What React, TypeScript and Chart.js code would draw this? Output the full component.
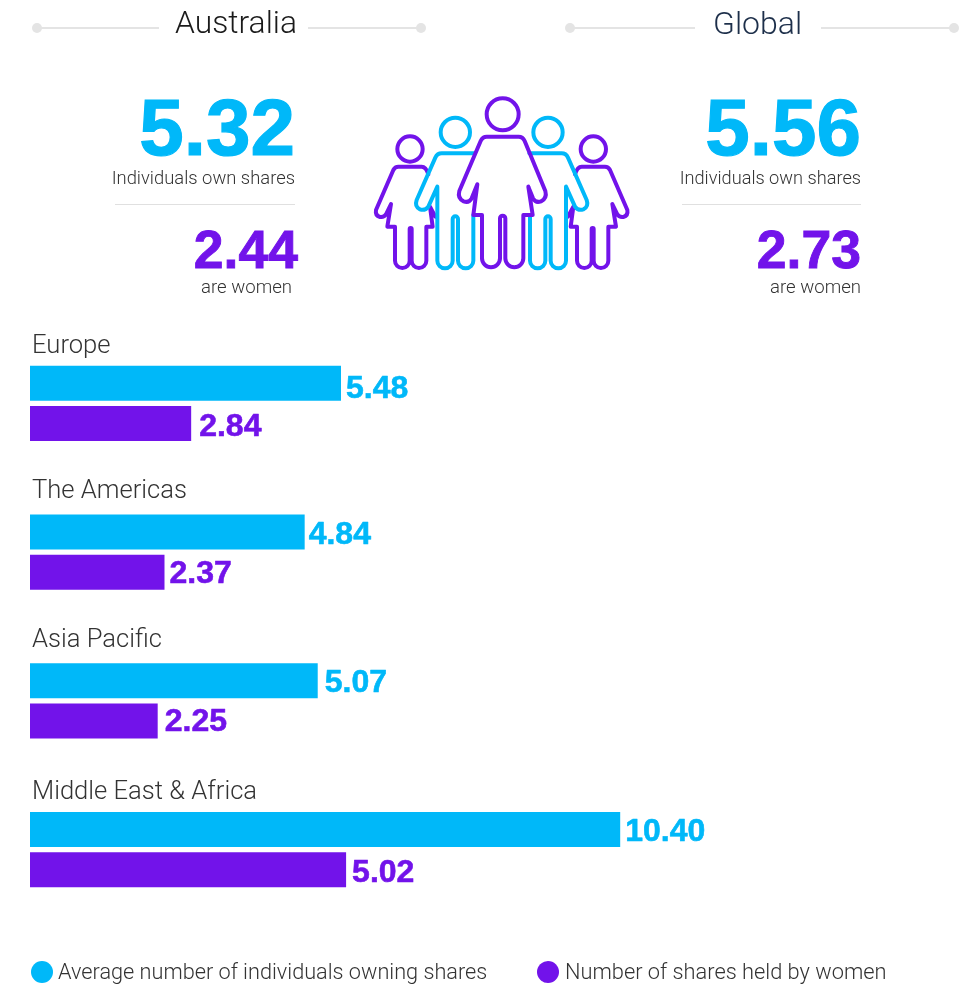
import React, { useEffect, useRef } from "react";
import { Chart, registerables } from "chart.js";

Chart.register(...registerables);

const regions = ["Europe", "The Americas", "Asia Pacific", "Middle East & Africa"];
const ownersValues = [5.48, 4.84, 5.07, 10.4];
const ownersLabels = ["5.48", "4.84", "5.07", "10.40"];
// Bar lengths as drawn in the picture (the last one is longer than its printed label).
const womenValues = [2.84, 2.37, 2.25, 5.57];
const womenLabels = ["2.84", "2.37", "2.25", "5.02"];
const seriesNames = ["Average number of individuals owning shares", "Number of shares held by women"];

const BLUE = "#00b8f9";
const PURPLE = "#7213ea";
const FONT = "Roboto, sans-serif";
const NUM_FONT = "'Liberation Sans', Arial, sans-serif";
const TEXT = "#333333";

// small hand adjustments of the printed labels, in pixels
const valueGap = [
  [5, 4, 7, 5],
  [8, 5, 7, 6],
];
const valueDrop = [
  [6, 3, 2, 3],
  [4, 2, 1, 4],
];
const regionLift = [57, 61, 60, 57];

const labelPlugin = {
  id: "barText",
  afterDatasetsDraw(chart: any) {
    const ctx = chart.ctx;
    ctx.save();
    ctx.textBaseline = "middle";
    ctx.textAlign = "left";
    ctx.lineWidth = 0.6;
    ctx.lineJoin = "round";
    chart.data.datasets.forEach((ds: any, i: number) => {
      const meta = chart.getDatasetMeta(i);
      ctx.fillStyle = ds.backgroundColor;
      ctx.strokeStyle = ds.backgroundColor;
      ctx.font = `700 32px ${NUM_FONT}`;
      meta.data.forEach((el: any, j: number) => {
        const x = el.x + valueGap[i][j];
        const y = el.y + valueDrop[i][j];
        ctx.fillText(ds.valueLabels[j], x, y);
        ctx.strokeText(ds.valueLabels[j], x, y);
      });
    });
    const yScale = chart.scales.y;
    ctx.fillStyle = TEXT;
    ctx.font = `300 25.6px ${FONT}`;
    chart.data.labels.forEach((name: string, i: number) => {
      ctx.fillText(name, 32, yScale.getPixelForValue(i) - regionLift[i]);
    });
    ctx.restore();
  },
};

function Txt(props: { x: number; y: number; right?: boolean; size: number; weight: number; color: string; font?: string; stroke?: number; children: any }) {
  const { x, y, right, size, weight, color, children } = props;
  const style: any = {
    position: "absolute",
    top: y,
    transform: "translateY(-50%)",
    fontFamily: props.font || FONT,
    fontSize: size,
    fontWeight: weight,
    color,
    lineHeight: 1,
    whiteSpace: "nowrap",
  };
  if (props.stroke) style.WebkitTextStroke = `${props.stroke}px ${color}`;
  if (right) style.right = 968 - x;
  else style.left = x;
  return <div style={style}>{children}</div>;
}

function Rule(props: { x1: number; x2: number; y: number; color: string; h?: number }) {
  return (
    <div
      style={{
        position: "absolute",
        left: props.x1,
        top: props.y,
        width: props.x2 - props.x1,
        height: props.h || 1,
        background: props.color,
      }}
    />
  );
}

function Dot(props: { x: number; y: number; r: number; color: string }) {
  return (
    <div
      style={{
        position: "absolute",
        left: props.x - props.r,
        top: props.y - props.r,
        width: props.r * 2,
        height: props.r * 2,
        borderRadius: "50%",
        background: props.color,
      }}
    />
  );
}

function Heading(props: { title: string; color: string; textX: number; size: number; a: number; b: number; c: number; d: number }) {
  const { a, b, c, d } = props;
  const grey = "#e4e4e4";
  return (
    <>
      <Dot x={a} y={28} r={5} color={grey} />
      <Dot x={d} y={28} r={5} color={grey} />
      <Rule x1={a} x2={b} y={27} h={2} color={grey} />
      <Rule x1={c} x2={d} y={27} h={2} color={grey} />
      <Txt x={props.textX} y={23} size={props.size} weight={300} color={props.color}>
        {props.title}
      </Txt>
    </>
  );
}

const manPath =
  "M 342 205 H 245 Q 232 205 226 218 L 170 345 Q 163 365 180 373 Q 195 378 205 365 L 232 305 V 527 A 23 23 0 0 0 278 527 V 402 A 8 8 0 0 1 294 402 V 527 A 23 23 0 0 0 340 527 V 390";
const smallWomanPath =
  "M 205 268 Q 198 245 185 245 H 115 Q 105 245 100 255 L 48 375 Q 45 392 60 396 Q 72 398 78 388 L 93 357 L 82 425 H 105 V 527 A 22 22 0 0 0 149 527 V 432 A 3 3 0 0 1 155 432 V 527 A 22 22 0 0 0 199 527 V 425 H 218 L 210 365 L 226 395";
const centerWomanPath =
  "M 380 155 H 476 Q 488 155 494 168 L 556 318 Q 562 340 543 349 Q 527 355 519 340 L 505 305 L 518 390 H 490 V 520 A 27 27 0 0 1 436 520 V 400 A 8 8 0 0 0 420 400 V 520 A 27 27 0 0 1 366 520 V 390 H 340 L 352 298 L 335 340 Q 327 355 311 349 Q 292 340 298 318 L 362 168 Q 368 155 380 155 Z";

function People() {
  const common = { fill: "none", strokeWidth: 12, strokeLinejoin: "round" as const, strokeLinecap: "round" as const };
  return (
    <svg
      viewBox="0 0 840 585"
      width={280}
      height={195}
      style={{ position: "absolute", left: 360, top: 85 }}
    >
      <g stroke={PURPLE} {...common}>
        <circle cx={150} cy={192} r={38} />
        <path d={smallWomanPath} />
        <g transform="translate(850,0) scale(-1,1)">
          <circle cx={150} cy={192} r={38} />
          <path d={smallWomanPath} />
        </g>
      </g>
      <g stroke={BLUE} {...common}>
        <circle cx={286} cy={142} r={44} />
        <path d={manPath} />
        <g transform="translate(850,0) scale(-1,1)">
          <circle cx={286} cy={142} r={44} />
          <path d={manPath} />
        </g>
      </g>
      <g stroke={PURPLE} {...common}>
        <circle cx={428} cy={88} r={48} />
        <path d={centerWomanPath} />
      </g>
    </svg>
  );
}

export default function App() {
  const ref = useRef<HTMLCanvasElement>(null);
  useEffect(() => {
    document.body.style.margin = "0";
    const chart = new Chart(ref.current as HTMLCanvasElement, {
      type: "bar",
      data: {
        labels: regions,
        datasets: [
          {
            label: seriesNames[0],
            data: ownersValues,
            backgroundColor: BLUE,
            valueLabels: ownersLabels,
            categoryPercentage: 0.538,
            barPercentage: 0.875,
          } as any,
          {
            label: seriesNames[1],
            data: womenValues,
            backgroundColor: PURPLE,
            valueLabels: womenLabels,
            categoryPercentage: 0.538,
            barPercentage: 0.875,
          } as any,
        ],
      },
      options: {
        indexAxis: "y",
        animation: false,
        responsive: false,
        maintainAspectRatio: false,
        layout: { padding: { left: 30, right: 30, top: 329, bottom: 60 } },
        plugins: { legend: { display: false }, tooltip: { enabled: false } },
        scales: {
          x: { display: false, min: 0, max: 16 },
          y: { display: false },
        },
      },
      plugins: [labelPlugin],
    });
    return () => chart.destroy();
  }, []);

  return (
    <div style={{ position: "absolute", left: 0, top: 0, width: 968, height: 984, overflow: "hidden", background: "#fff" }}>
      <canvas ref={ref} width={968} height={984} style={{ position: "absolute", left: 0, top: 0 }} />

      <Heading title="Australia" color="#1a1a1a" textX={175} size={31.8} a={37} b={159} c={308} d={421} />
      <Heading title="Global" color="#1d2f4a" textX={713} size={32} a={570} b={695} c={821} d={954} />

      <Txt x={295} y={128} right size={80} weight={700} font={NUM_FONT} stroke={1.2} color={BLUE}>5.32</Txt>
      <Txt x={295} y={178} right size={18.4} weight={300} color={TEXT}>Individuals own shares</Txt>
      <Rule x1={115} x2={295} y={204} color="#e0e0e0" />
      <Txt x={298} y={250} right size={53.5} weight={700} font={NUM_FONT} stroke={0.9} color={PURPLE}>2.44</Txt>
      <Txt x={292} y={287} right size={18.6} weight={300} color={TEXT}>are women</Txt>

      <Txt x={861} y={128} right size={80} weight={700} font={NUM_FONT} stroke={1.2} color={BLUE}>5.56</Txt>
      <Txt x={861} y={178} right size={18.2} weight={300} color={TEXT}>Individuals own shares</Txt>
      <Rule x1={682} x2={861} y={204} color="#e0e0e0" />
      <Txt x={861} y={250} right size={53.5} weight={700} font={NUM_FONT} stroke={0.9} color={PURPLE}>2.73</Txt>
      <Txt x={861} y={287} right size={18.6} weight={300} color={TEXT}>are women</Txt>

      <People />

      <Dot x={42} y={972} r={11} color={BLUE} />
      <Txt x={58} y={972} size={21.7} weight={300} color={TEXT}>{seriesNames[0]}</Txt>
      <Dot x={548} y={972} r={11} color={PURPLE} />
      <Txt x={565} y={972} size={21.8} weight={300} color={TEXT}>{seriesNames[1]}</Txt>
    </div>
  );
}
